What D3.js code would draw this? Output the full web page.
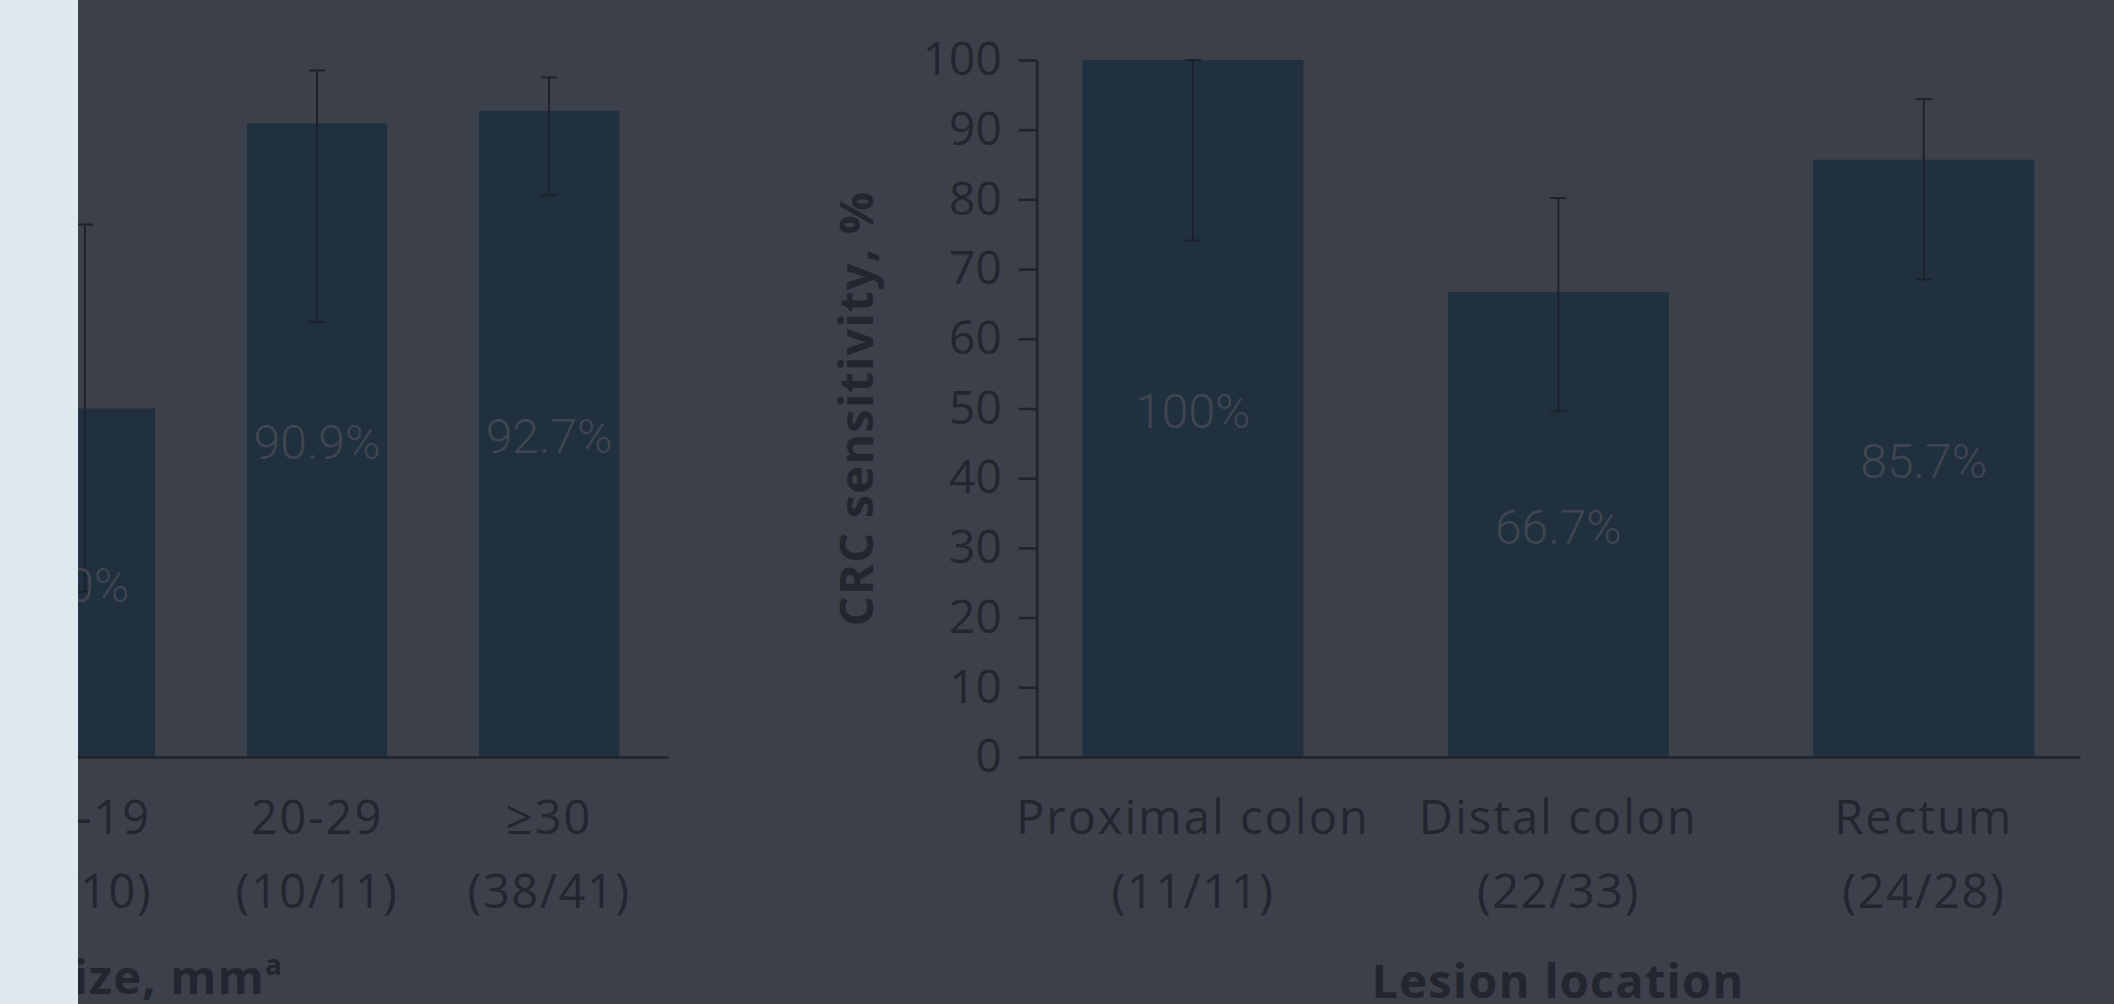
<!DOCTYPE html>
<html>
<head>
<meta charset="utf-8">
<script src="https://cdn.jsdelivr.net/npm/d3@7"></script>
<style>
  html, body { margin: 0; padding: 0; background: #3c404b; overflow: hidden; }
  svg { display: block; }
</style>
</head>
<body>
<svg id="chart" width="2114" height="1004"></svg>
<script>
// ---------- data ----------
const sizeCategories = ["10-19", "20-29", "≥30"];
const sizeCounts = ["(5/10)", "(10/11)", "(38/41)"];
const sizeValues = [50.0, 90.9, 92.7];
const sizeLow = [23.7, 62.4, 80.6];
const sizeHigh = [76.4, 98.5, 97.5];
const sizeLabels = ["50%", "90.9%", "92.7%"];

const locCategories = ["Proximal colon", "Distal colon", "Rectum"];
const locCounts = ["(11/11)", "(22/33)", "(24/28)"];
const locValues = [100, 66.7, 85.7];
const locLow = [74.1, 49.6, 68.5];
const locHigh = [100, 80.2, 94.4];
const locLabels = ["100%", "66.7%", "85.7%"];

const yTicks = [0, 10, 20, 30, 40, 50, 60, 70, 80, 90, 100];

// ---------- style ----------
const BG = "#3c404b", BAR = "#20303e", INK = "#22262f", VAL = "#404651", PANEL = "#dde9ef";
const SANS = "'Open Sans', 'Noto Sans', sans-serif";

const svg = d3.select("#chart");
svg.append("rect").attr("width", 2114).attr("height", 1004).attr("fill", BG);

const y = d3.scaleLinear().domain([0, 100]).range([757, 60]);

function panel(cats, counts, vals, lo, hi, labels, xRange, padOuter) {
  const g = svg.append("g");
  const x = d3.scaleBand().domain(cats).range(xRange).paddingInner(0.395).paddingOuter(padOuter);
  const bw = x.bandwidth();

  g.selectAll("rect.bar").data(cats).join("rect")
    .attr("class", "bar")
    .attr("x", d => x(d)).attr("width", bw)
    .attr("y", (d, i) => y(vals[i])).attr("height", (d, i) => y(0) - y(vals[i]))
    .attr("fill", BAR);

  // error bars (95% CI)
  const eb = g.selectAll("g.err").data(cats).join("g").attr("class", "err")
    .attr("transform", d => `translate(${x(d) + bw / 2},0)`)
    .attr("stroke", "#1d212b").attr("stroke-width", 2);
  eb.append("line").attr("y1", (d, i) => y(lo[i])).attr("y2", (d, i) => y(hi[i]));
  eb.append("line").attr("x1", -8).attr("x2", 8).attr("y1", (d, i) => y(lo[i])).attr("y2", (d, i) => y(lo[i]));
  eb.append("line").attr("x1", -8).attr("x2", 8).attr("y1", (d, i) => y(hi[i])).attr("y2", (d, i) => y(hi[i]));

  // value labels
  g.selectAll("text.val").data(cats).join("text")
    .attr("class", "val")
    .attr("x", d => x(d) + bw / 2)
    .attr("y", (d, i) => (y(vals[i]) + y(0)) / 2)
    .attr("dy", "0.4em")
    .attr("text-anchor", "middle")
    .attr("font-family", "Roboto, sans-serif").attr("font-weight", 300).attr("font-size", 48)
    .attr("fill", VAL)
    .text((d, i) => labels[i]);

  // x axis
  const xa = g.append("g").attr("transform", `translate(0,${y(0)})`)
    .call(d3.axisBottom(x).tickSize(0).tickSizeOuter(0));
  xa.select(".domain").attr("stroke", "#1f232c").attr("stroke-width", 2.5);
  xa.selectAll(".tick text").each(function (d, i) {
    const t = d3.select(this);
    t.text(null).attr("y", 0).attr("dy", null)
      .attr("font-family", SANS).attr("font-size", 47).attr("fill", INK);
    t.append("tspan").attr("x", 0).attr("y", 77).attr("letter-spacing", 2).text(d);
    t.append("tspan").attr("x", 0).attr("y", 151).attr("letter-spacing", 1.5).text(counts[i]);
  });
  return { g, x };
}

// Left panel: CRC sensitivity by lesion size
const left = panel(sizeCategories, sizeCounts, sizeValues, sizeLow, sizeHigh, sizeLabels, [-34, 668], 0.21);
const leftTitle = left.g.append("text")
  .attr("x", 283).attr("y", 994).attr("text-anchor", "end")
  .attr("font-family", SANS).attr("font-weight", 700).attr("font-size", 47).attr("fill", INK)
  .attr("letter-spacing", 1.2);
leftTitle.append("tspan").text("Lesion size, mm");
leftTitle.append("tspan").attr("font-size", 28).attr("dy", -19).text("a");

// Right panel: CRC sensitivity by lesion location
const right = panel(locCategories, locCounts, locValues, locLow, locHigh, locLabels, [1036.7, 2080], 0.125);
const ya = right.g.append("g").attr("transform", "translate(1036.7,0)")
  .call(d3.axisLeft(y).tickValues(yTicks).tickSize(18).tickPadding(17).tickSizeOuter(0));
ya.select(".domain").attr("stroke", "#1f232c").attr("stroke-width", 2.5);
ya.selectAll(".tick line").attr("stroke", "#1f232c").attr("stroke-width", 2.5);
ya.selectAll(".tick text").attr("font-family", SANS).attr("font-size", 46).attr("fill", INK);

right.g.append("text")
  .attr("transform", `translate(873,${(y(0) + y(100)) / 2}) rotate(-90)`)
  .attr("text-anchor", "middle")
  .attr("font-family", SANS).attr("font-weight", 700).attr("font-size", 47).attr("fill", INK)
  .attr("letter-spacing", 1.2)
  .text("CRC sensitivity, %");

right.g.append("text")
  .attr("x", 1558).attr("y", 998).attr("text-anchor", "middle")
  .attr("font-family", SANS).attr("font-weight", 700).attr("font-size", 47).attr("fill", INK)
  .attr("letter-spacing", 1.2)
  .text("Lesion location");

// light side panel covering the left edge
svg.append("rect").attr("x", 0).attr("y", 0).attr("width", 78).attr("height", 1004).attr("fill", PANEL);
</script>
</body>
</html>
